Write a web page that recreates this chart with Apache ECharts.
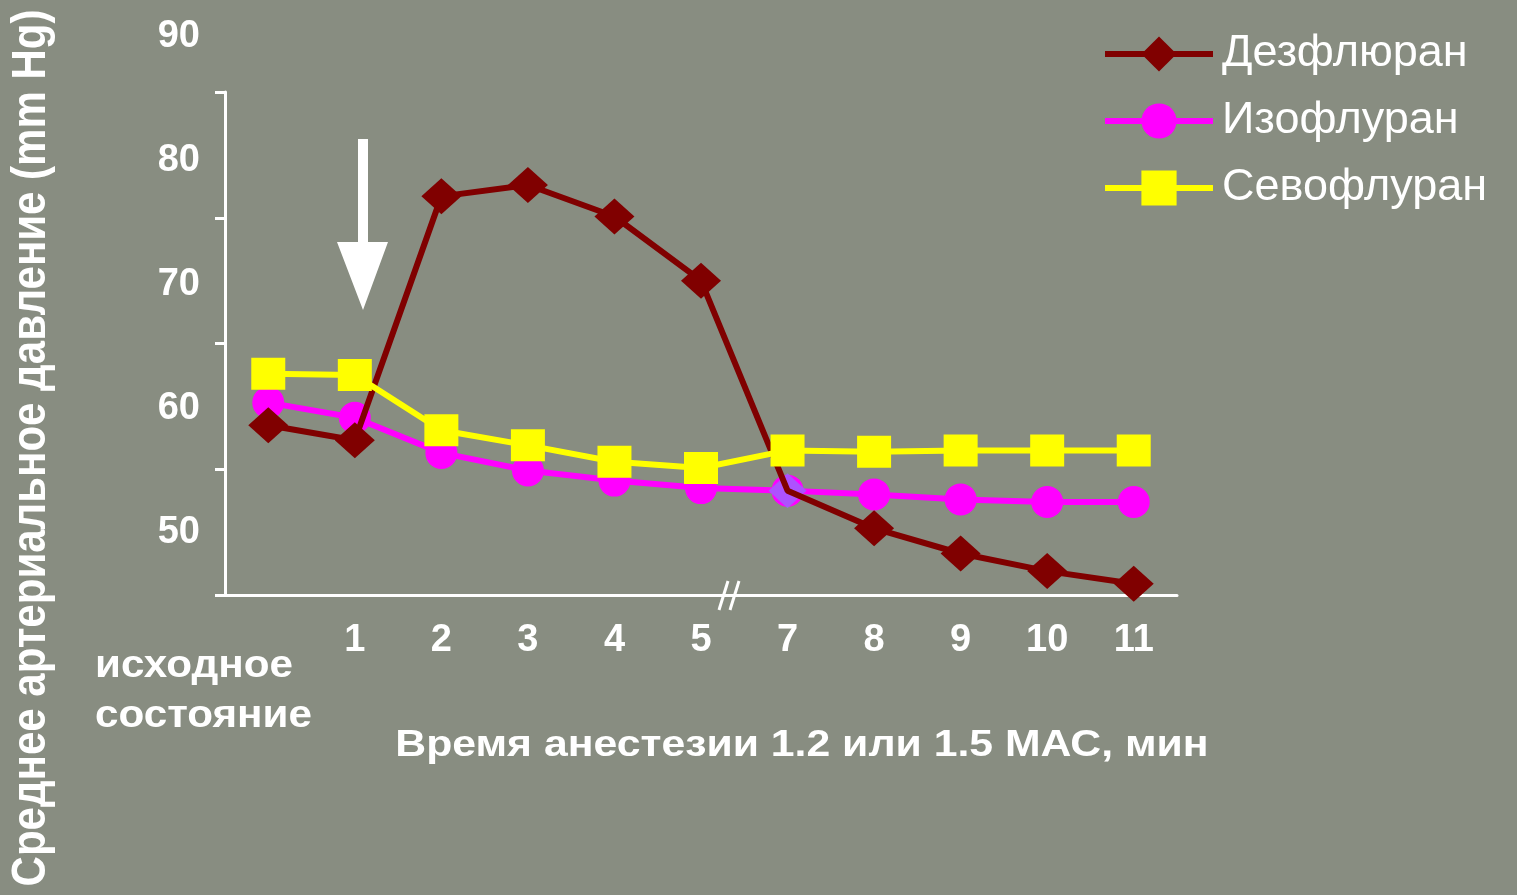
<!DOCTYPE html>
<html>
<head>
<meta charset="utf-8">
<script src="https://cdn.jsdelivr.net/npm/echarts@6/dist/echarts.min.js"></script>
<style>
  html, body { margin: 0; padding: 0; background: #888d81; }
  #chart { width: 1517px; height: 895px; }
</style>
</head>
<body>
<div id="chart"></div>
<script>
// Mean arterial pressure during anesthesia, by agent
const categories = ['исходное состояние', '1', '2', '3', '4', '5', '7', '8', '9', '10', '11'];
const desflurane = [58.5, 57.3, 76.7, 77.6, 75.1, 70.0, 53.3, 50.3, 48.3, 46.9, 45.9];
const isoflurane = [60.3, 59.1, 56.3, 54.9, 54.1, 53.5, 53.3, 53.0, 52.6, 52.4, 52.4];
const sevoflurane = [62.6, 62.5, 58.1, 56.9, 55.6, 55.1, 56.5, 56.4, 56.5, 56.5, 56.5];
const seriesNames = ['Дезфлюран', 'Изофлуран', 'Севофлуран'];
const yTickLabels = [50, 60, 70, 80, 90];
const xAxisTitle = 'Время анестезии 1.2 или 1.5 МАС, мин';
const yAxisTitle = 'Среднее артериальное давление (mm Hg)';

const FONT = 'Arial, "Liberation Sans", sans-serif';
const WHITE = '#ffffff';
const CROSS_INDEX = 6; // where desflurane meets isoflurane

const chart = echarts.init(document.getElementById('chart'), null, { renderer: 'canvas' });

const option = {
  backgroundColor: '#888d81',
  animation: false,
  grid: [
    { left: 225, right: 340, top: 92, bottom: 300 },   // plot area
    { left: 225, right: 340, top: 37, bottom: 239 }    // value labels scale
  ],
  xAxis: [
    {
      type: 'category', gridIndex: 0, data: categories, boundaryGap: true,
      axisLine: { lineStyle: { color: WHITE, width: 3 } },
      axisTick: { alignWithLabel: true, interval: 0, length: 8, lineStyle: { color: WHITE, width: 3 } },
      axisLabel: {
        interval: 0, color: WHITE, fontSize: 38, fontWeight: 'bold', fontFamily: FONT, margin: 27,
        formatter: (v, i) => (i === 0 ? '' : v)
      }
    },
    { type: 'category', gridIndex: 1, data: categories, show: false }
  ],
  yAxis: [
    {
      type: 'value', gridIndex: 0, min: 45, max: 85, interval: 10,
      axisLine: { show: true, lineStyle: { color: WHITE, width: 3 } },
      axisTick: { show: true, length: 10, lineStyle: { color: WHITE, width: 3 } },
      axisLabel: { show: false },
      splitLine: { show: false }
    },
    {
      type: 'value', gridIndex: 1, min: 40, max: 90, interval: 10,
      axisLine: { show: false }, axisTick: { show: false }, splitLine: { show: false },
      axisLabel: {
        color: WHITE, fontSize: 38, fontWeight: 'bold', fontFamily: FONT, margin: 25,
        formatter: v => (yTickLabels.includes(v) ? String(v) : '')
      }
    }
  ],
  legend: {
    data: seriesNames, orient: 'vertical', left: 1097, top: 24,
    itemWidth: 108, itemHeight: 44, itemGap: 17, selectedMode: false,
    lineStyle: { width: 6 },
    textStyle: { color: WHITE, fontSize: 45, fontFamily: FONT, lineHeight: 50, padding: [0, 0, 0, 4] }
  },
  series: [
    {
      name: seriesNames[1], type: 'line', data: isoflurane, z: 2,
      symbol: 'circle', symbolSize: 32, showAllSymbol: true,
      itemStyle: { color: '#ff00ff' }, lineStyle: { color: '#ff00ff', width: 6 }
    },
    {
      name: 'crossing', type: 'scatter', z: 3, silent: true,
      data: [[CROSS_INDEX, desflurane[CROSS_INDEX]]],
      symbol: 'diamond', symbolSize: [38, 35], itemStyle: { color: '#9966ff' }
    },
    {
      name: seriesNames[0], type: 'line', z: 4,
      data: desflurane.map((v, i) => (i === CROSS_INDEX ? { value: v, symbol: 'none' } : v)),
      symbol: 'diamond', symbolSize: [40, 36], showAllSymbol: true,
      itemStyle: { color: '#800000' }, lineStyle: { color: '#800000', width: 6 }
    },
    {
      name: seriesNames[2], type: 'line', data: sevoflurane, z: 5,
      symbol: 'rect', symbolSize: [34, 32], showAllSymbol: true,
      itemStyle: { color: '#ffff00' }, lineStyle: { color: '#ffff00', width: 6 }
    }
  ],
  graphic: [
    // baseline category label, set off to the left below the axis
    {
      type: 'text', x: 95, y: 692, z: 10, scaleX: 1.11,
      style: {
        text: categories[0].replace(' ', '\n'), fill: WHITE,
        font: 'bold 38px ' + FONT, lineHeight: 50, verticalAlign: 'middle', align: 'left'
      }
    },
    // x axis title
    {
      type: 'text', x: 802, y: 746, z: 10, scaleX: 1.155,
      style: { text: xAxisTitle, fill: WHITE, font: 'bold 37px ' + FONT, align: 'center', verticalAlign: 'middle' }
    },
    // y axis title, reading bottom to top
    {
      type: 'text', x: 32, y: 448, rotation: Math.PI / 2, z: 10, scaleY: 1.15,
      style: { text: yAxisTitle, fill: WHITE, font: 'bold 42px ' + FONT, align: 'center', verticalAlign: 'middle' }
    },
    // axis break mark between 5 and 7 min
    {
      type: 'group', z: 10,
      children: [
        { type: 'line', shape: { x1: 719, y1: 610, x2: 728, y2: 581 }, style: { stroke: WHITE, lineWidth: 3 } },
        { type: 'line', shape: { x1: 730, y1: 610, x2: 739, y2: 581 }, style: { stroke: WHITE, lineWidth: 3 } }
      ]
    },
    // arrow marking the start of anesthesia
    {
      type: 'polygon', z: 10,
      shape: { points: [[358, 139], [368, 139], [368, 242], [388, 242], [363, 310], [337, 242], [358, 242]] },
      style: { fill: WHITE }
    }
  ]
};

chart.setOption(option);
</script>
</body>
</html>
